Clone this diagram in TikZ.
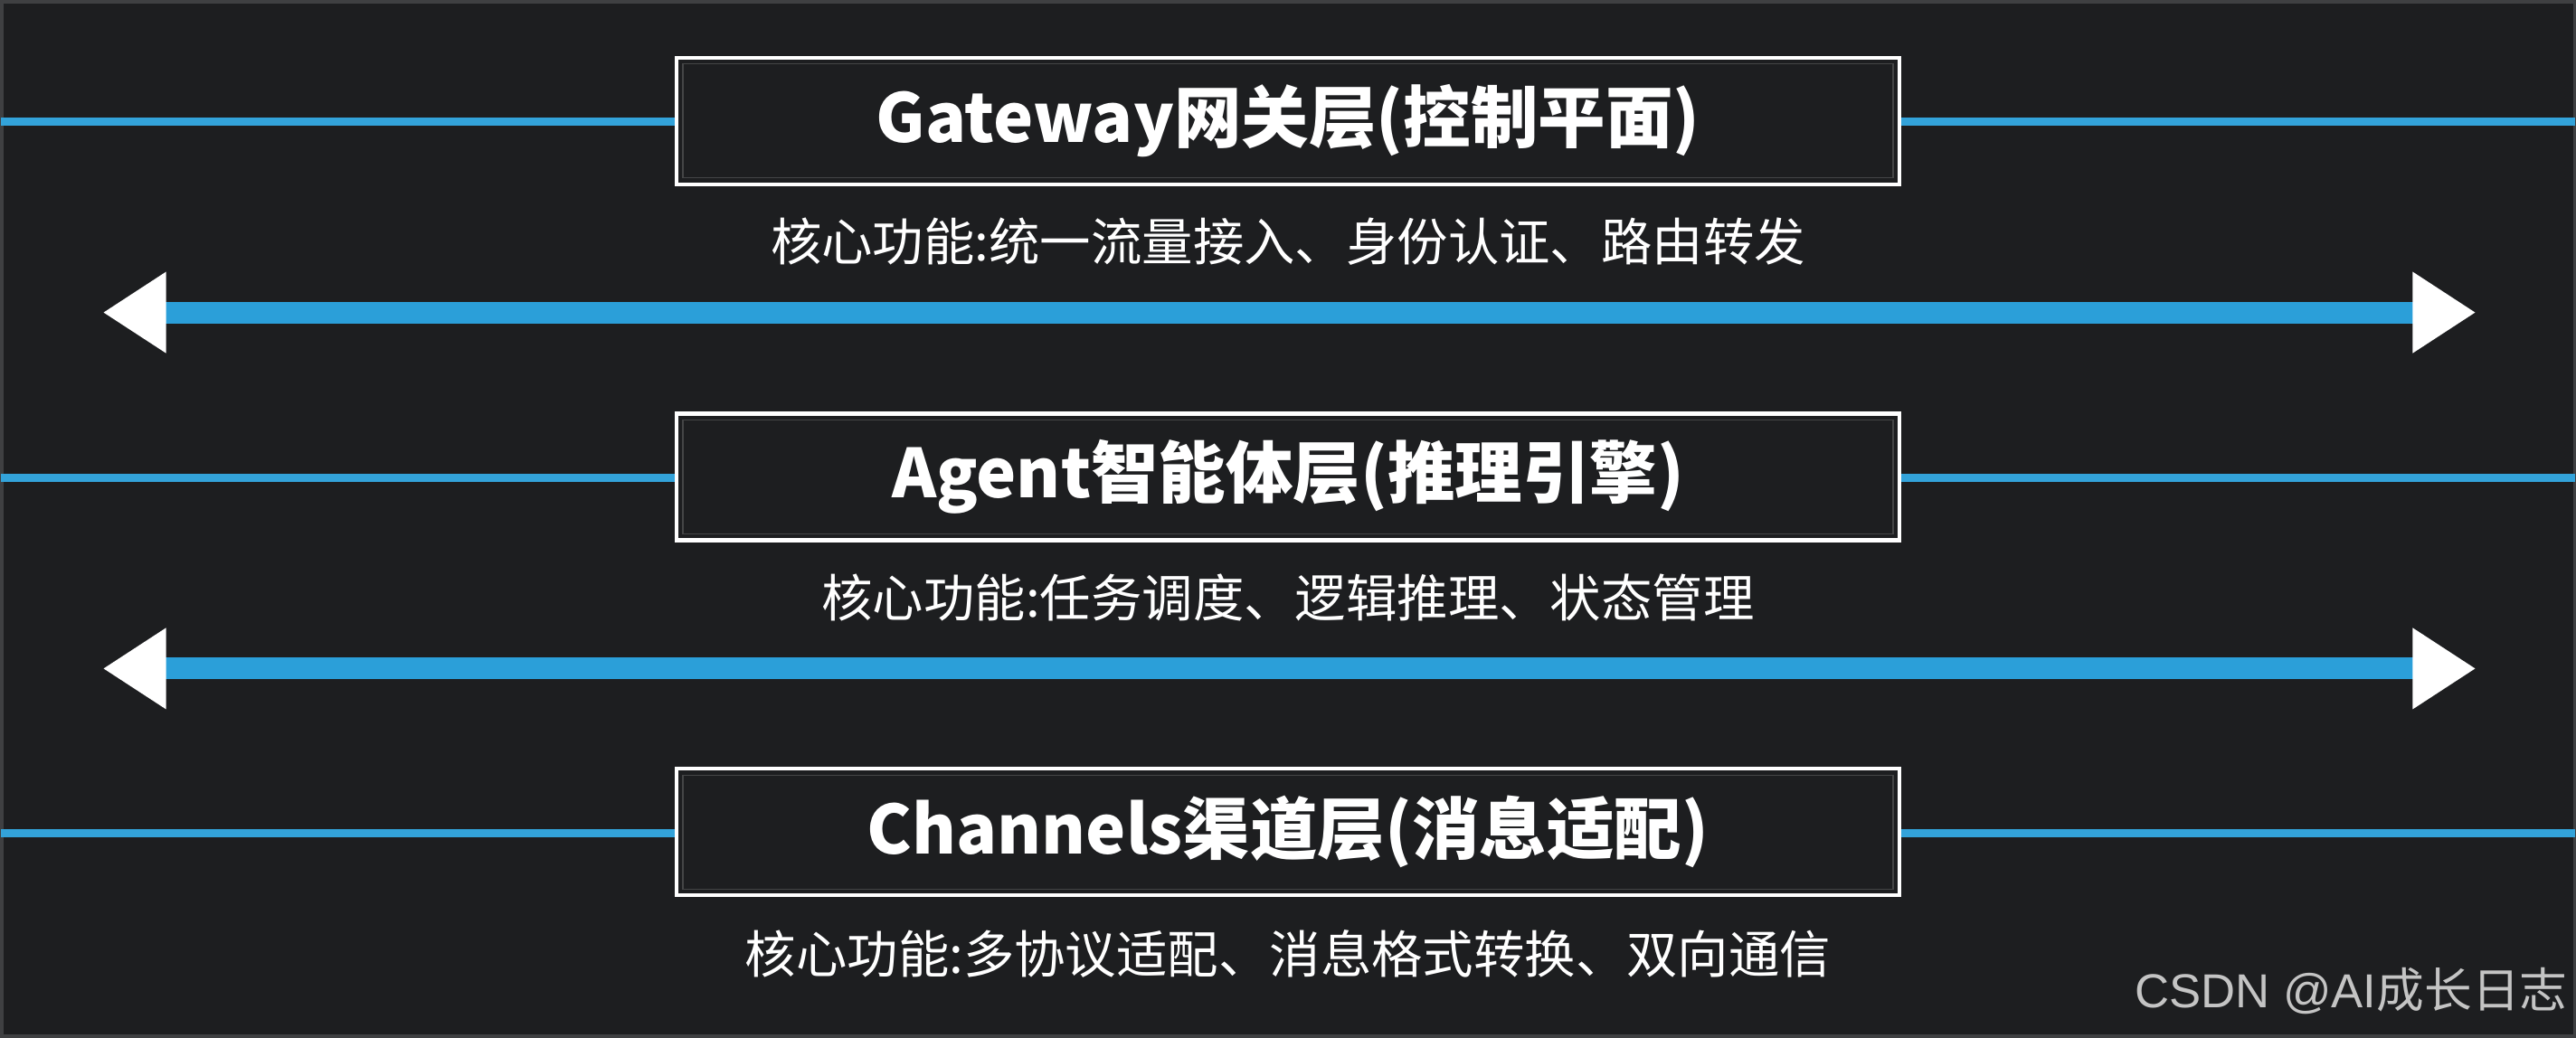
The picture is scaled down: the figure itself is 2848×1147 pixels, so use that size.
\documentclass[tikz,border=0pt]{standalone}
\usepackage{fontspec}
\setmainfont{Noto Sans CJK SC}
\newfontfamily\wmlatin{Liberation Sans}
\usetikzlibrary{arrows.meta}
\definecolor{bgdark}{HTML}{1D1E20}
\definecolor{lineblue}{HTML}{33A3DA}
\definecolor{shaftblue}{HTML}{2B9FD9}
\definecolor{wmgray}{HTML}{C4C4C4}
\tikzset{
  layerbox/.style={draw=white, line width=1.15pt, fill=bgdark, minimum width=13.52cm, minimum height=1.40cm, inner sep=0pt,
    text=white, font=\fontsize{21.2pt}{24pt}\selectfont\bfseries},
  subtext/.style={text=white, font=\fontsize{16.05pt}{19pt}\selectfont, inner sep=0pt},
  thinline/.style={lineblue, line width=2.4pt},
  bigarrow/.style={shaftblue, line width=6.8pt, {Triangle[color=white,length=0.70cm,width=0.85cm]}-{Triangle[color=white,length=0.70cm,width=0.85cm]}},
}
\begin{document}
\begin{tikzpicture}[x=0.01cm,y=-0.01cm]
\fill[bgdark] (0,0) rectangle (2848,1147);
\draw[gray!35!bgdark, line width=1pt] (1,1) rectangle (2847,1146);
\useasboundingbox (0,0) rectangle (2848,1147);

% coordinates for line ends
\coordinate (l1) at (0,134);   \coordinate (r1) at (2848,134);
\coordinate (l2) at (0,528);   \coordinate (r2) at (2848,528);
\coordinate (l3) at (0,921);   \coordinate (r3) at (2848,921);
\coordinate (a1l) at (113,345); \coordinate (a1r) at (2738,345);
\coordinate (a2l) at (113,739); \coordinate (a2r) at (2738,739);

% thin lines (behind boxes)
\draw[thinline] (l1) -- (r1);
\draw[thinline] (l2) -- (r2);
\draw[thinline] (l3) -- (r3);

% layer boxes
\node[layerbox] (gw) at (1424,133) {Gateway网关层(控制平面)};
\node[layerbox] (ag) at (1424,527) {Agent智能体层(推理引擎)};
\node[layerbox] (ch) at (1424,920) {Channels渠道层(消息适配)};

% inner faint border
\foreach \n in {gw,ag,ch}{
  \draw[gray!40!bgdark, line width=0.4pt] ([xshift=0.9mm,yshift=-0.9mm]\n.north west) rectangle ([xshift=-0.9mm,yshift=0.9mm]\n.south east);
}

% subtitles
\node[subtext] (s1) at (1424,267) {核心功能:统一流量接入、身份认证、路由转发};
\node[subtext] (s2) at (1424,661) {核心功能:任务调度、逻辑推理、状态管理};
\node[subtext] (s3) at (1424,1055) {核心功能:多协议适配、消息格式转换、双向通信};

% big double arrows
\draw[bigarrow] (a1l) -- (a1r);
\draw[bigarrow] (a2l) -- (a2r);

% watermark
\node[text=wmgray, font=\fontsize{15pt}{17pt}\selectfont, anchor=east, inner sep=0pt] (wm) at (2840,1096) {{\wmlatin CSDN @AI}成长日志};
\end{tikzpicture}
\end{document}
